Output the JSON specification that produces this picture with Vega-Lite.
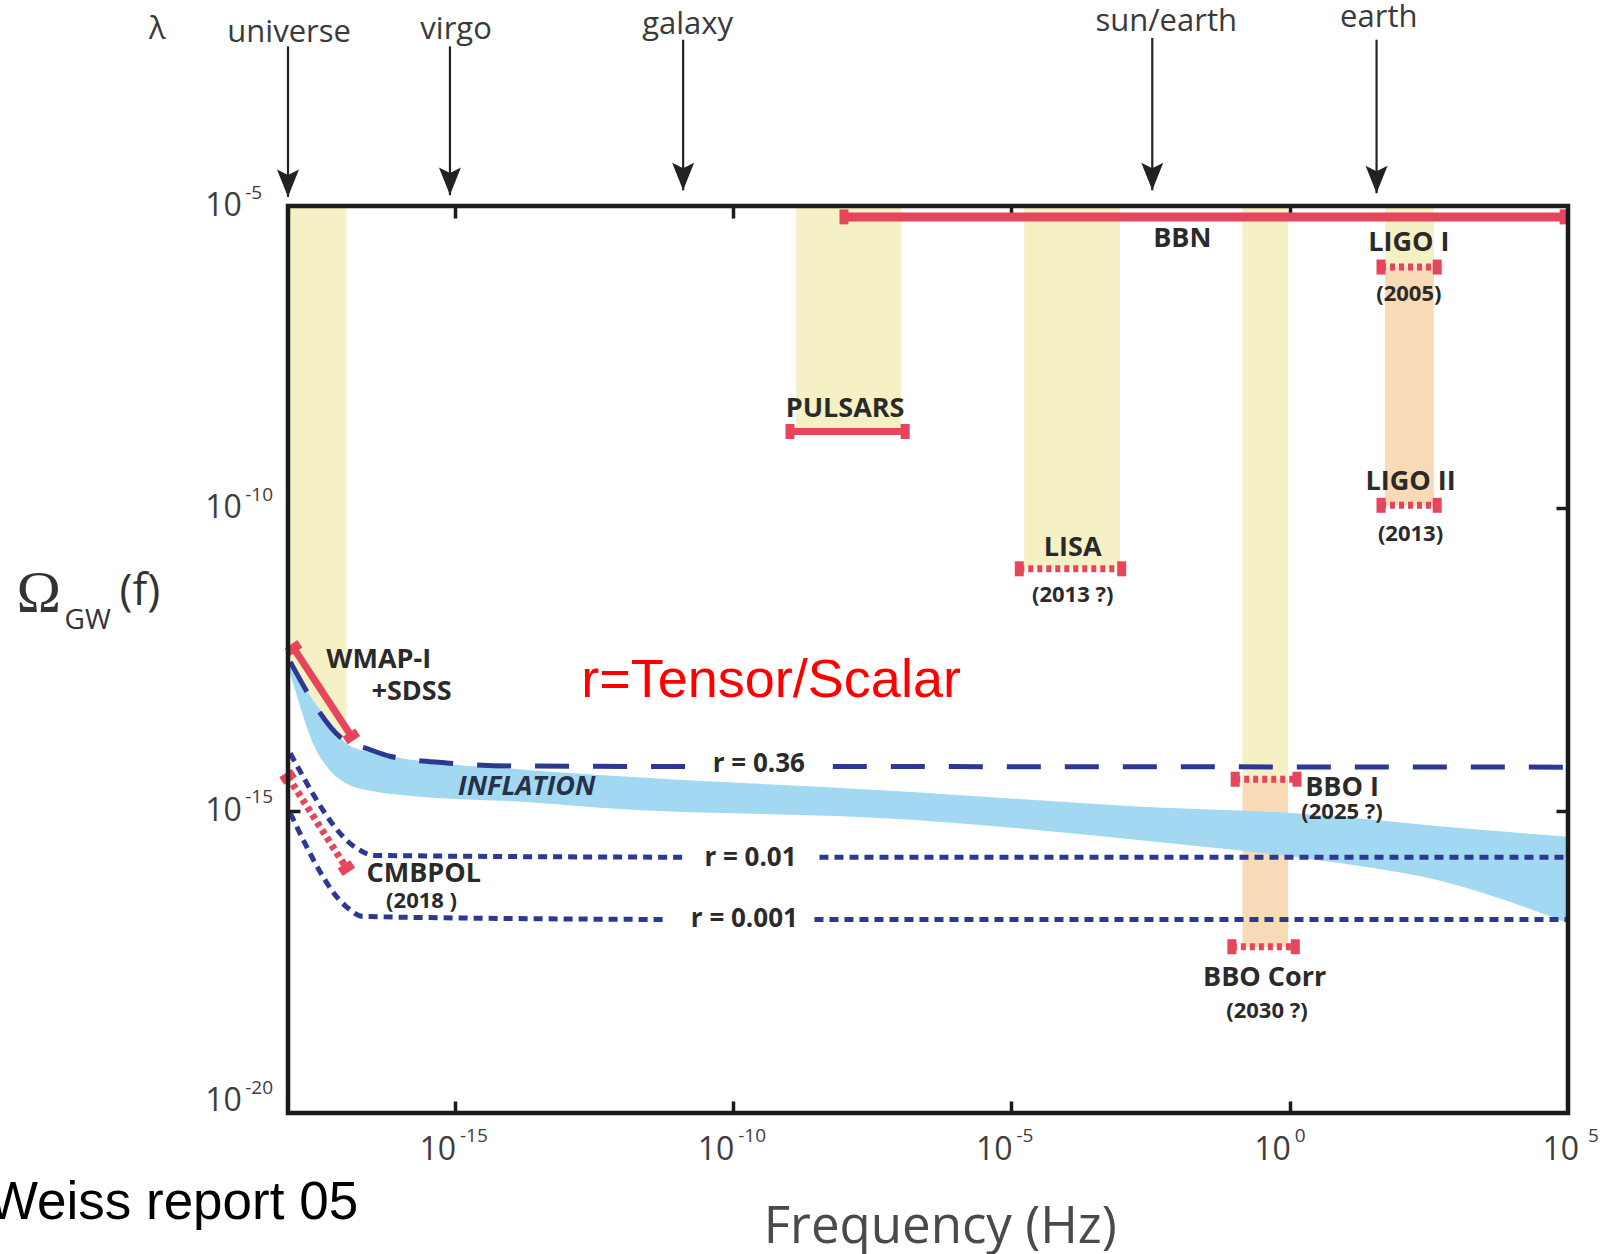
{
 "$schema": "https://vega.github.io/schema/vega-lite/v6.json",
 "width": 1280, "height": 907,
 "autosize": "none",
 "padding": {"left": 288, "top": 206, "right": 44, "bottom": 141},
 "background": "white",
 "config": {"view": {"stroke": null}, "axis": {"grid": false, "labels": false, "domain": false, "ticks": true, "tickSize": -12, "tickWidth": 3.5, "tickColor": "#1b1b1b", "zindex": 1}},
 "datasets": {
  "bands": [
   {"x1": -8.87, "x2": -6.98, "y1": -5, "y2": -8.73, "k": "y"},
   {"x1": -4.77, "x2": -3.05, "y1": -5, "y2": -11.0, "k": "y"},
   {"x1": -0.85, "x2": -0.03, "y1": -5, "y2": -14.48, "k": "y"},
   {"x1": -0.85, "x2": -0.03, "y1": -14.48, "y2": -17.25, "k": "o"},
   {"x1": 1.71, "x2": 2.59, "y1": -5, "y2": -6.01, "k": "y"},
   {"x1": 1.71, "x2": 2.59, "y1": -6.01, "y2": -9.95, "k": "o"}
  ],
  "uband": [
   {"x": -18.0, "top": -5, "bot": -12.58},
   {"x": -17.78, "top": -5, "bot": -12.86},
   {"x": -17.55, "top": -5, "bot": -13.17},
   {"x": -17.25, "top": -5, "bot": -13.53},
   {"x": -16.95, "top": -5, "bot": -13.89}
  ],
  "inflation": [
   {"x": -17.97, "hi": -12.6, "lo": -12.7},
   {"x": -17.78, "hi": -12.86, "lo": -13.28},
   {"x": -17.55, "hi": -13.17, "lo": -13.89},
   {"x": -17.25, "hi": -13.53, "lo": -14.33},
   {"x": -16.95, "hi": -13.89, "lo": -14.55},
   {"x": -16.59, "hi": -14.02, "lo": -14.66},
   {"x": -16.35, "hi": -14.07, "lo": -14.7},
   {"x": -15.75, "hi": -14.16, "lo": -14.76},
   {"x": -13.65, "hi": -14.33, "lo": -14.86},
   {"x": -12.39, "hi": -14.41, "lo": -14.95},
   {"x": -6.79, "hi": -14.69, "lo": -15.15},
   {"x": -2.76, "hi": -14.93, "lo": -15.48},
   {"x": 0.19, "hi": -15.05, "lo": -15.78},
   {"x": 1.5, "hi": -15.15, "lo": -15.95},
   {"x": 2.58, "hi": -15.25, "lo": -16.13},
   {"x": 3.5, "hi": -15.32, "lo": -16.37},
   {"x": 4.3, "hi": -15.38, "lo": -16.62},
   {"x": 5.0, "hi": -15.43, "lo": -16.86}
  ],
  "red": [
   {"id": "BBN", "x": -8.01, "y": -5.18}, {"id": "BBN", "x": 4.93, "y": -5.18},
   {"id": "PULSARS", "x": -8.98, "y": -8.73}, {"id": "PULSARS", "x": -6.91, "y": -8.73},
   {"id": "WMAP", "x": -17.9, "y": -12.31}, {"id": "WMAP", "x": -16.86, "y": -13.77},
   {"id": "LISA", "x": -4.86, "y": -11.0}, {"id": "LISA", "x": -3.02, "y": -11.0},
   {"id": "LIGO I", "x": 1.64, "y": -6.01}, {"id": "LIGO I", "x": 2.65, "y": -6.01},
   {"id": "LIGO II", "x": 1.64, "y": -9.95}, {"id": "LIGO II", "x": 2.65, "y": -9.95},
   {"id": "BBO I", "x": -0.98, "y": -14.48}, {"id": "BBO I", "x": 0.13, "y": -14.48},
   {"id": "BBO Corr", "x": -1.04, "y": -17.25}, {"id": "BBO Corr", "x": 0.1, "y": -17.25},
   {"id": "CMBPOL", "x": -18.0, "y": -14.44}, {"id": "CMBPOL", "x": -16.95, "y": -15.95}
  ],
  "r036": [
   {"s": "a", "x": -17.96, "y": -12.54}, {"s": "a", "x": -16.95, "y": -13.86}, {"s": "a", "x": -16.59, "y": -13.97},
   {"s": "a", "x": -16.17, "y": -14.1}, {"s": "a", "x": -15.15, "y": -14.21}, {"s": "a", "x": -13.95, "y": -14.26},
   {"s": "a", "x": -10.8, "y": -14.27}, {"s": "b", "x": -8.21, "y": -14.27}, {"s": "b", "x": 5, "y": -14.28}
  ],
  "rdots": [
   {"s": "a1", "x": -17.96, "y": -14.05}, {"s": "a1", "x": -16.77, "y": -15.62}, {"s": "a1", "x": -16.45, "y": -15.74},
   {"s": "a1", "x": -10.89, "y": -15.77}, {"s": "b1", "x": -8.45, "y": -15.77}, {"s": "b1", "x": 5, "y": -15.77},
   {"s": "a2", "x": -17.96, "y": -15.04}, {"s": "a2", "x": -16.95, "y": -16.59}, {"s": "a2", "x": -16.65, "y": -16.75},
   {"s": "a2", "x": -11.25, "y": -16.8}, {"s": "b2", "x": -8.54, "y": -16.8}, {"s": "b2", "x": 5, "y": -16.8}
  ],
  "arrows": [
   {"n": "universe", "x": -18.0, "top": -2.36, "tip": -4.85},
   {"n": "virgo", "x": -15.09, "top": -2.36, "tip": -4.82},
   {"n": "galaxy", "x": -10.9, "top": -2.25, "tip": -4.74},
   {"n": "sun/earth", "x": -2.47, "top": -2.22, "tip": -4.74},
   {"n": "earth", "x": 1.56, "top": -2.25, "tip": -4.79}
  ],
  "toplab": [
   {"t": "λ", "x": -20.35, "y": -2.09},
   {"t": "universe", "x": -17.98, "y": -2.14},
   {"t": "virgo", "x": -14.98, "y": -2.09},
   {"t": "galaxy", "x": -10.82, "y": -2.01},
   {"t": "sun/earth", "x": -2.22, "y": -1.96},
   {"t": "earth", "x": 1.6, "y": -1.89}
  ],
  "boldlab": [
   {"t": "BBN", "x": -1.93, "y": -5.54},
   {"t": "LIGO I", "x": 2.14, "y": -5.61},
   {"t": "PULSARS", "x": -7.99, "y": -8.35},
   {"t": "LIGO II", "x": 2.17, "y": -9.56},
   {"t": "LISA", "x": -3.9, "y": -10.66},
   {"t": "WMAP-I", "x": -16.37, "y": -12.5},
   {"t": "+SDSS", "x": -15.78, "y": -13.04},
   {"t": "BBO I", "x": 0.94, "y": -14.63},
   {"t": "CMBPOL", "x": -15.56, "y": -16.04},
   {"t": "BBO Corr", "x": -0.45, "y": -17.76}
  ],
  "yearlab": [
   {"t": "(2005)", "x": 2.14, "y": -6.46},
   {"t": "(2013)", "x": 2.17, "y": -10.43},
   {"t": "(2013 ?)", "x": -3.9, "y": -11.43},
   {"t": "(2025 ?)", "x": 0.94, "y": -15.03},
   {"t": "(2018 )", "x": -15.6, "y": -16.5},
   {"t": "(2030 ?)", "x": -0.41, "y": -18.32}
  ],
  "rlab": [
   {"t": "r = 0.36", "x": -9.54, "y": -14.23},
   {"t": "r = 0.01", "x": -9.69, "y": -15.78},
   {"t": "r = 0.001", "x": -9.8, "y": -16.79}
  ],
  "misc": [
   {"id": "infl", "t": "INFLATION", "x": -13.71, "y": -14.61},
   {"id": "tensor", "t": "r=Tensor/Scalar", "x": -9.32, "y": -12.85},
   {"id": "weiss", "t": "Weiss report 05", "x": -16.74, "y": -21.75},
   {"id": "freq", "t": "Frequency (Hz)", "x": -6.28, "y": -21.9},
   {"id": "omega", "t": "Ω", "x": -22.48, "y": -11.42},
   {"id": "gw", "t": "GW", "x": -21.6, "y": -11.86},
   {"id": "f", "t": "(f)", "x": -20.66, "y": -11.38}
  ],
  "xlab": [
   {"e": "-15", "lx": -14.98, "ex": -14.91},
   {"e": "-10", "lx": -9.98, "ex": -9.91},
   {"e": "-5", "lx": -4.98, "ex": -4.91},
   {"e": "0", "lx": 0.02, "ex": 0.09},
   {"e": "5", "lx": 5.2, "ex": 5.36}
  ],
  "ylab": [
   {"e": "-5", "y": -5, "ey": -4.78},
   {"e": "-10", "y": -10, "ey": -9.78},
   {"e": "-15", "y": -15, "ey": -14.78},
   {"e": "-20", "y": -19.8, "ey": -19.59}
  ],
  "frame": [{"x1": -18, "x2": 5, "y1": -20, "y2": -5}]
 },
 "resolve": {"axis": {"x": "independent", "y": "independent"}},
 "layer": [
  {
   "data": {"name": "bands"},
   "mark": {"type": "rect"},
   "encoding": {
    "x": {"field": "x1", "type": "quantitative", "scale": {"domain": [-18, 5], "nice": false, "zero": false}, "axis": {"orient": "bottom", "values": [-15, -10, -5, 0], "title": null}},
    "x2": {"field": "x2"},
    "y": {"field": "y1", "type": "quantitative", "scale": {"domain": [-20, -5], "nice": false, "zero": false}, "axis": {"orient": "left", "values": [-15, -10], "title": null}},
    "y2": {"field": "y2"},
    "color": {"field": "k", "type": "nominal", "scale": {"domain": ["y", "o"], "range": ["#f6f1c4", "#f8dbb6"]}, "legend": null}
   }
  },
  {
   "data": {"name": "uband"},
   "mark": {"type": "area", "color": "#f6f1c4"},
   "encoding": {
    "x": {"field": "x", "type": "quantitative", "axis": null},
    "y": {"field": "top", "type": "quantitative", "axis": null},
    "y2": {"field": "bot"}
   }
  },
  {
   "data": {"name": "inflation"},
   "mark": {"type": "area", "color": "#a2d8f1", "interpolate": "monotone"},
   "encoding": {
    "x": {"field": "x", "type": "quantitative", "axis": null},
    "y": {"field": "hi", "type": "quantitative", "axis": null},
    "y2": {"field": "lo"}
   }
  },
  {
   "data": {"name": "red"},
   "transform": [{"filter": "datum.id == 'BBN'"}],
   "mark": {"type": "line", "color": "#e6455b", "strokeWidth": 9},
   "encoding": {"x": {"field": "x", "type": "quantitative", "axis": null}, "y": {"field": "y", "type": "quantitative", "axis": null}, "detail": {"field": "id"}}
  },
  {
   "data": {"name": "red"},
   "transform": [{"filter": "datum.id == 'PULSARS' || datum.id == 'WMAP'"}],
   "mark": {"type": "line", "color": "#e6455b", "strokeWidth": 7},
   "encoding": {"x": {"field": "x", "type": "quantitative", "axis": null}, "y": {"field": "y", "type": "quantitative", "axis": null}, "detail": {"field": "id"}}
  },
  {
   "data": {"name": "red"},
   "transform": [{"filter": "datum.id != 'BBN' && datum.id != 'PULSARS' && datum.id != 'WMAP'"}],
   "mark": {"type": "line", "color": "#e6455b", "strokeWidth": 7, "strokeDash": [5, 4]},
   "encoding": {"x": {"field": "x", "type": "quantitative", "axis": null}, "y": {"field": "y", "type": "quantitative", "axis": null}, "detail": {"field": "id"}}
  },
  {
   "data": {"name": "red"},
   "transform": [{"filter": "datum.id != 'WMAP' && datum.id != 'CMBPOL'"}],
   "mark": {"type": "point", "filled": true, "opacity": 1, "color": "#e6455b", "size": 225, "shape": "M-0.6,-1L0.6,-1L0.6,1L-0.6,1Z"},
   "encoding": {"x": {"field": "x", "type": "quantitative", "axis": null}, "y": {"field": "y", "type": "quantitative", "axis": null}}
  },
  {
   "data": {"name": "red"},
   "transform": [{"filter": "datum.id == 'WMAP' || datum.id == 'CMBPOL'"}],
   "mark": {"type": "point", "filled": true, "opacity": 1, "color": "#e6455b", "size": 225, "angle": 56.5, "shape": "M-0.6,-1L0.6,-1L0.6,1L-0.6,1Z"},
   "encoding": {"x": {"field": "x", "type": "quantitative", "axis": null}, "y": {"field": "y", "type": "quantitative", "axis": null}}
  },
  {
   "data": {"name": "r036"},
   "mark": {"type": "line", "color": "#2c3892", "strokeWidth": 5, "strokeDash": [34, 24], "interpolate": "monotone"},
   "encoding": {"x": {"field": "x", "type": "quantitative", "axis": null}, "y": {"field": "y", "type": "quantitative", "axis": null}, "detail": {"field": "s"}}
  },
  {
   "data": {"name": "rdots"},
   "mark": {"type": "line", "color": "#2c3892", "strokeWidth": 5, "strokeDash": [9, 6], "interpolate": "monotone"},
   "encoding": {"x": {"field": "x", "type": "quantitative", "axis": null}, "y": {"field": "y", "type": "quantitative", "axis": null}, "detail": {"field": "s"}}
  },
  {
   "data": {"name": "arrows"},
   "mark": {"type": "rule", "color": "#222222", "strokeWidth": 2.2},
   "encoding": {"x": {"field": "x", "type": "quantitative", "axis": null}, "y": {"field": "top", "type": "quantitative", "axis": null}, "y2": {"field": "tip"}}
  },
  {
   "data": {"name": "arrows"},
   "mark": {"type": "point", "filled": true, "opacity": 1, "color": "#222222", "size": 756, "shape": "M0,0L-0.8,-2L0,-1.6L0.8,-2Z"},
   "encoding": {"x": {"field": "x", "type": "quantitative", "axis": null}, "y": {"field": "tip", "type": "quantitative", "axis": null}}
  },
  {
   "data": {"name": "toplab"},
   "mark": {"type": "text", "font": "Open Sans", "fontSize": 31, "color": "#3a3a3a", "align": "center", "baseline": "middle"},
   "encoding": {"x": {"field": "x", "type": "quantitative", "axis": null}, "y": {"field": "y", "type": "quantitative", "axis": null}, "text": {"field": "t"}}
  },
  {
   "data": {"name": "boldlab"},
   "mark": {"type": "text", "font": "Open Sans", "fontSize": 27, "fontWeight": "bold", "color": "#2a2a2a", "align": "center", "baseline": "middle"},
   "encoding": {"x": {"field": "x", "type": "quantitative", "axis": null}, "y": {"field": "y", "type": "quantitative", "axis": null}, "text": {"field": "t"}}
  },
  {
   "data": {"name": "yearlab"},
   "mark": {"type": "text", "font": "Open Sans", "fontSize": 22, "fontWeight": "bold", "color": "#2a2a2a", "align": "center", "baseline": "middle"},
   "encoding": {"x": {"field": "x", "type": "quantitative", "axis": null}, "y": {"field": "y", "type": "quantitative", "axis": null}, "text": {"field": "t"}}
  },
  {
   "data": {"name": "rlab"},
   "mark": {"type": "text", "font": "Open Sans", "fontSize": 26, "fontWeight": "bold", "color": "#2a2a2a", "align": "center", "baseline": "middle"},
   "encoding": {"x": {"field": "x", "type": "quantitative", "axis": null}, "y": {"field": "y", "type": "quantitative", "axis": null}, "text": {"field": "t"}}
  },
  {
   "data": {"name": "misc"},
   "transform": [{"filter": "datum.id == 'infl'"}],
   "mark": {"type": "text", "font": "Open Sans", "fontSize": 27, "fontWeight": "bold", "fontStyle": "italic", "color": "#263248", "align": "center", "baseline": "middle"},
   "encoding": {"x": {"field": "x", "type": "quantitative", "axis": null}, "y": {"field": "y", "type": "quantitative", "axis": null}, "text": {"field": "t"}}
  },
  {
   "data": {"name": "misc"},
   "transform": [{"filter": "datum.id == 'tensor'"}],
   "mark": {"type": "text", "font": "Liberation Sans", "fontSize": 54, "color": "#ff0000", "align": "center", "baseline": "middle"},
   "encoding": {"x": {"field": "x", "type": "quantitative", "axis": null}, "y": {"field": "y", "type": "quantitative", "axis": null}, "text": {"field": "t"}}
  },
  {
   "data": {"name": "misc"},
   "transform": [{"filter": "datum.id == 'weiss'"}],
   "mark": {"type": "text", "font": "Liberation Sans", "fontSize": 53, "color": "#000000", "align": "right", "baseline": "alphabetic"},
   "encoding": {"x": {"field": "x", "type": "quantitative", "axis": null}, "y": {"field": "y", "type": "quantitative", "axis": null}, "text": {"field": "t"}}
  },
  {
   "data": {"name": "misc"},
   "transform": [{"filter": "datum.id == 'freq'"}],
   "mark": {"type": "text", "font": "Open Sans", "fontSize": 51, "color": "#4a4a4a", "align": "center", "baseline": "middle"},
   "encoding": {"x": {"field": "x", "type": "quantitative", "axis": null}, "y": {"field": "y", "type": "quantitative", "axis": null}, "text": {"field": "t"}}
  },
  {
   "data": {"name": "misc"},
   "transform": [{"filter": "datum.id == 'omega'"}],
   "mark": {"type": "text", "font": "Liberation Serif", "fontSize": 60, "color": "#333333", "align": "center", "baseline": "middle"},
   "encoding": {"x": {"field": "x", "type": "quantitative", "axis": null}, "y": {"field": "y", "type": "quantitative", "axis": null}, "text": {"field": "t"}}
  },
  {
   "data": {"name": "misc"},
   "transform": [{"filter": "datum.id == 'gw'"}],
   "mark": {"type": "text", "font": "Open Sans", "fontSize": 28, "color": "#333333", "align": "center", "baseline": "middle"},
   "encoding": {"x": {"field": "x", "type": "quantitative", "axis": null}, "y": {"field": "y", "type": "quantitative", "axis": null}, "text": {"field": "t"}}
  },
  {
   "data": {"name": "misc"},
   "transform": [{"filter": "datum.id == 'f'"}],
   "mark": {"type": "text", "font": "Open Sans", "fontSize": 44, "color": "#333333", "align": "center", "baseline": "middle"},
   "encoding": {"x": {"field": "x", "type": "quantitative", "axis": null}, "y": {"field": "y", "type": "quantitative", "axis": null}, "text": {"field": "t"}}
  },
  {
   "data": {"name": "xlab"},
   "mark": {"type": "text", "font": "Open Sans", "fontSize": 32, "color": "#3d3d3d", "align": "right", "baseline": "middle"},
   "encoding": {"x": {"field": "lx", "type": "quantitative", "axis": null}, "y": {"datum": -20.61, "type": "quantitative", "axis": null}, "text": {"value": "10"}}
  },
  {
   "data": {"name": "xlab"},
   "mark": {"type": "text", "font": "Open Sans", "fontSize": 19, "color": "#3d3d3d", "align": "left", "baseline": "middle"},
   "encoding": {"x": {"field": "ex", "type": "quantitative", "axis": null}, "y": {"datum": -20.38, "type": "quantitative", "axis": null}, "text": {"field": "e"}}
  },
  {
   "data": {"name": "ylab"},
   "mark": {"type": "text", "font": "Open Sans", "fontSize": 32, "color": "#3d3d3d", "align": "right", "baseline": "middle"},
   "encoding": {"x": {"datum": -18.83, "type": "quantitative", "axis": null}, "y": {"field": "y", "type": "quantitative", "axis": null}, "text": {"value": "10"}}
  },
  {
   "data": {"name": "ylab"},
   "mark": {"type": "text", "font": "Open Sans", "fontSize": 19, "color": "#3d3d3d", "align": "left", "baseline": "middle"},
   "encoding": {"x": {"datum": -18.77, "type": "quantitative", "axis": null}, "y": {"field": "ey", "type": "quantitative", "axis": null}, "text": {"field": "e"}}
  },
  {
   "data": {"name": "frame"},
   "mark": {"type": "rect", "fillOpacity": 0, "stroke": "#1b1b1b", "strokeWidth": 4.5},
   "encoding": {
    "x": {"field": "x1", "type": "quantitative", "axis": {"orient": "top", "values": [-15, -10, -5, 0], "title": null}},
    "x2": {"field": "x2"},
    "y": {"field": "y1", "type": "quantitative", "axis": {"orient": "right", "values": [-15, -10], "title": null}},
    "y2": {"field": "y2"}
   }
  }
 ]
}
